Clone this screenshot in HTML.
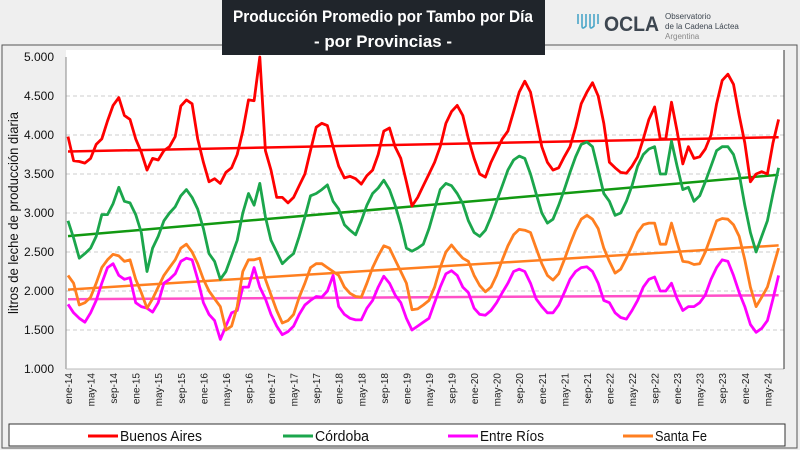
<!DOCTYPE html>
<html><head><meta charset="utf-8">
<style>
body{margin:0;width:800px;height:450px;background:#efefef;overflow:hidden;font-family:"Liberation Sans",sans-serif}
svg{display:block}
</style></head>
<body>
<svg id="chart" width="800" height="450" viewBox="0 0 800 450" xmlns="http://www.w3.org/2000/svg">
<rect x="2" y="45" width="795" height="403" fill="#efefef" stroke="#555" stroke-width="1"/>
<rect x="66" y="50" width="718" height="319" fill="#fff"/>
<rect x="222" y="0" width="323" height="55" fill="#20252b"/>
<text x="383" y="22" text-anchor="middle" font-size="17" font-weight="bold" fill="#fff" textLength="300" lengthAdjust="spacingAndGlyphs">Producción Promedio por Tambo por Día</text>
<text x="383" y="47" text-anchor="middle" font-size="17" font-weight="bold" fill="#fff" textLength="138" lengthAdjust="spacingAndGlyphs">- por Provincias -</text>
<g>
<path d="M578 14 v10 M582 14 v12 q0 4 4 0 v-12 M590 14 v12 q0 4 4 0 v-12 M598 14 v10" stroke="#4aa6c8" stroke-width="1.6" fill="none"/>
<text x="604" y="31" font-size="21" font-weight="bold" fill="#3d4650" textLength="55" lengthAdjust="spacingAndGlyphs">OCLA</text>
<text x="665" y="19" font-size="8" fill="#3d4650">Observatorio</text>
<text x="665" y="29" font-size="8" fill="#3d4650">de la Cadena Láctea</text>
<text x="665" y="39" font-size="8" fill="#888">Argentina</text>
</g>
<g id="grid"></g>
<g id="yticks"></g>
<g id="xticks"></g>
<g id="series"></g>
<line x1="66" y1="57" x2="66" y2="369" stroke="#888"/>
<line x1="66" y1="369" x2="784" y2="369" stroke="#bbb"/>
<line x1="784" y1="50" x2="784" y2="369" stroke="#333"/>
<text transform="translate(18,213) rotate(-90)" text-anchor="middle" font-size="14" fill="#111" textLength="202" lengthAdjust="spacingAndGlyphs">litros de leche de producción diaria</text>
<rect x="9" y="424" width="776" height="22" fill="#fff" stroke="#333"/>
<g id="legend"></g>
</svg>
<script>
const months=["ene","feb","mar","abr","may","jun","jul","ago","sep","oct","nov","dic"];
const yTicks=[1,1.5,2,2.5,3,3.5,4,4.5,5];
const yTickLabels=["1.000","1.500","2.000","2.500","3.000","3.500","4.000","4.500","5.000"];
const seriesNames=["Buenos Aires","Córdoba","Entre Ríos","Santa Fe"];
const buenosAires=[3.98,3.67,3.66,3.64,3.70,3.88,3.95,4.18,4.38,4.48,4.25,4.20,
3.95,3.78,3.55,3.70,3.68,3.80,3.85,3.98,4.37,4.45,4.40,3.95,
3.65,3.40,3.44,3.38,3.52,3.58,3.75,4.05,4.45,4.44,5.00,3.80,
3.55,3.20,3.20,3.13,3.20,3.35,3.50,3.80,4.10,4.15,4.12,3.85,
3.60,3.45,3.47,3.44,3.37,3.48,3.55,3.75,4.05,4.09,3.85,3.70,
3.40,3.09,3.20,3.35,3.50,3.65,3.85,4.15,4.30,4.38,4.25,3.95,
3.70,3.50,3.46,3.65,3.80,3.95,4.05,4.30,4.55,4.69,4.55,4.20,
3.85,3.65,3.55,3.58,3.72,3.85,4.10,4.40,4.55,4.67,4.50,4.15,
3.65,3.58,3.52,3.51,3.60,3.72,3.95,4.20,4.36,3.95,3.95,4.42,
4.05,3.63,3.85,3.70,3.72,3.82,4.00,4.40,4.70,4.78,4.65,4.25,
3.90,3.40,3.50,3.53,3.50,3.90,4.20];
const cordoba=[2.90,2.68,2.42,2.48,2.55,2.70,2.98,2.98,3.12,3.33,3.15,3.13,
2.98,2.75,2.25,2.55,2.70,2.90,3.00,3.08,3.22,3.30,3.20,3.05,
2.80,2.48,2.38,2.15,2.25,2.45,2.65,3.00,3.25,3.10,3.38,2.95,
2.65,2.50,2.35,2.42,2.48,2.70,2.95,3.22,3.25,3.30,3.36,3.15,
3.05,2.85,2.78,2.72,2.90,3.10,3.25,3.32,3.42,3.30,3.10,2.85,
2.55,2.51,2.55,2.60,2.80,3.05,3.30,3.38,3.35,3.25,3.12,2.90,
2.75,2.70,2.78,2.95,3.15,3.35,3.55,3.68,3.73,3.70,3.50,3.25,
3.00,2.87,2.92,3.10,3.30,3.52,3.72,3.88,3.91,3.85,3.55,3.25,
3.15,2.97,3.00,3.15,3.35,3.60,3.75,3.82,3.85,3.50,3.50,3.92,
3.60,3.30,3.33,3.15,3.22,3.40,3.60,3.80,3.85,3.85,3.75,3.50,
3.10,2.75,2.50,2.70,2.90,3.25,3.58];
const entreRios=[1.83,1.72,1.65,1.60,1.72,1.88,2.10,2.30,2.35,2.20,2.15,2.17,
1.85,1.80,1.78,1.73,1.85,2.10,2.15,2.22,2.38,2.42,2.40,2.15,
1.85,1.70,1.62,1.38,1.55,1.72,1.75,2.05,2.05,2.30,2.05,1.90,
1.70,1.55,1.44,1.48,1.55,1.70,1.82,1.88,1.93,1.92,2.00,2.20,
1.80,1.70,1.65,1.63,1.63,1.78,1.88,2.05,2.19,2.10,1.95,1.85,
1.65,1.50,1.55,1.60,1.65,1.85,2.05,2.22,2.26,2.20,2.05,1.98,
1.78,1.70,1.69,1.75,1.85,1.98,2.10,2.25,2.28,2.25,2.10,1.90,
1.80,1.72,1.72,1.82,1.98,2.15,2.25,2.30,2.31,2.25,2.10,1.88,
1.85,1.72,1.66,1.64,1.75,1.88,2.05,2.15,2.18,2.00,2.00,2.10,
1.90,1.75,1.80,1.80,1.85,1.95,2.15,2.30,2.40,2.38,2.20,1.98,
1.80,1.57,1.47,1.52,1.62,1.90,2.20];
const santaFe=[2.20,2.10,1.82,1.85,1.92,2.10,2.30,2.40,2.47,2.45,2.38,2.40,
2.15,1.98,1.78,1.90,2.05,2.20,2.30,2.40,2.55,2.60,2.50,2.35,
2.15,2.00,1.90,1.80,1.50,1.55,1.80,2.25,2.40,2.40,2.42,2.15,
1.95,1.75,1.59,1.62,1.70,1.92,2.10,2.30,2.35,2.35,2.30,2.25,
2.20,2.05,1.97,1.93,1.92,2.10,2.30,2.45,2.58,2.55,2.40,2.25,
2.10,1.76,1.77,1.82,1.88,2.05,2.30,2.50,2.59,2.50,2.42,2.38,
2.20,2.07,1.99,2.05,2.20,2.40,2.58,2.72,2.79,2.78,2.75,2.55,
2.35,2.20,2.14,2.22,2.40,2.60,2.78,2.92,2.97,2.92,2.80,2.55,
2.38,2.23,2.28,2.42,2.58,2.75,2.85,2.87,2.87,2.60,2.60,2.87,
2.62,2.38,2.37,2.34,2.35,2.50,2.70,2.90,2.93,2.92,2.85,2.70,
2.40,2.05,1.80,1.92,2.05,2.30,2.55];
const seriesData=[buenosAires,cordoba,entreRios,santaFe];
const seriesColors=["#ff0000","#1ba64c","#ff00ff","#ff7f20"];
const trendColors=["#ff0000","#119911","#ff4fc8","#ff7f20"];
const seriesKeys=["buenos-aires","cordoba","entre-rios","santa-fe"];

const NS="http://www.w3.org/2000/svg";
const X0=68, DX=5.64;
function xPos(i){return X0+i*DX;}
function yPos(v){return 57+(5-v)*78;}
function mk(tag,attrs,parent){const e=document.createElementNS(NS,tag);for(const k in attrs)e.setAttribute(k,attrs[k]);parent.appendChild(e);return e;}

const grid=document.getElementById('grid'), yt=document.getElementById('yticks');
yTicks.forEach((v,k)=>{
  if(v>1&&v<5){const g=mk('line',{x1:66,x2:784,y1:yPos(v),y2:yPos(v),stroke:'#ccc','stroke-dasharray':'4,3'},grid);
  
  }
  const t=mk('text',{x:54,y:yPos(v)+4,'text-anchor':'end','font-size':12,fill:'#111'},yt);
  t.textContent=yTickLabels[k];
  
  
});
const xt=document.getElementById('xticks');
const n=buenosAires.length;
for(let i=0;i<n;i+=4){
  const lab=months[i%12]+"-"+(14+Math.floor(i/12));
  const t=mk('text',{transform:`translate(${xPos(i)+4},373) rotate(-90)`,'text-anchor':'end','font-size':10,fill:'#222'},xt);
  t.textContent=lab;
  
  
}
const sg=document.getElementById('series');
seriesData.forEach((d,s)=>{
  let sx=0,sy=0,sxx=0,sxy=0;const m=d.length;
  d.forEach((v,i)=>{sx+=i;sy+=v;sxx+=i*i;sxy+=i*v;});
  const b=(m*sxy-sx*sy)/(m*sxx-sx*sx), a=(sy-b*sx)/m;
  const tl=mk('line',{x1:xPos(0),y1:yPos(a),x2:xPos(m-1),y2:yPos(a+b*(m-1)),stroke:trendColors[s],'stroke-width':2.5},sg);
  
  
});
seriesData.forEach((d,s)=>{
  const p=mk('polyline',{points:d.map((v,i)=>xPos(i).toFixed(1)+","+yPos(v).toFixed(1)).join(" "),fill:'none',stroke:seriesColors[s],'stroke-width':2.8,'stroke-linejoin':'round'},sg);
  
  
});
const lg=document.getElementById('legend');
const lx=[88,283,448,623];
const lw=[82,54,64,52];
seriesNames.forEach((nm,s)=>{
  const g=mk('g',{},lg);
  
  
  mk('line',{x1:lx[s],x2:lx[s]+30,y1:436,y2:436,stroke:seriesColors[s],'stroke-width':3},g);
  const t=mk('text',{x:lx[s]+32,y:441,'font-size':15,fill:'#111',textLength:lw[s],lengthAdjust:'spacingAndGlyphs'},g);
  t.textContent=nm;
});
</script>
</body></html>
